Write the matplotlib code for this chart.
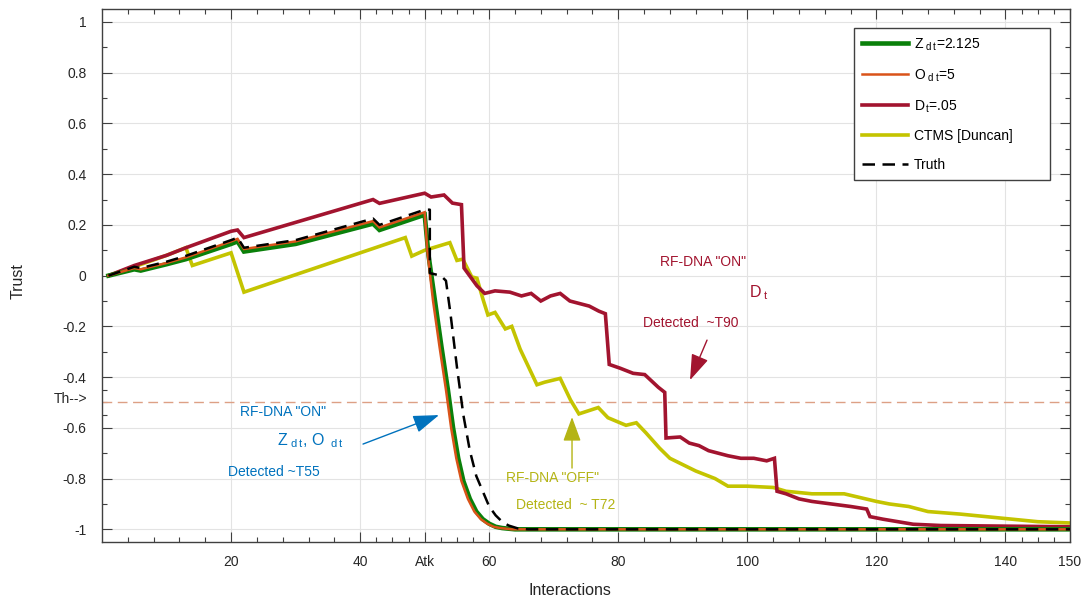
import matplotlib
matplotlib.use("Agg")
import matplotlib.pyplot as plt
from matplotlib.ticker import FixedLocator

plt.rcParams['font.family'] = ['Liberation Sans', 'DejaVu Sans']
plt.rcParams['mathtext.fontset'] = 'custom'
plt.rcParams['mathtext.rm'] = 'Liberation Sans'
plt.rcParams['mathtext.it'] = 'Liberation Sans:italic'

# ---------------- data ----------------
z_x = [1, 5, 6, 10, 13, 20, 21, 22, 30, 42, 43, 50, 50.6, 51.6, 52.6, 53.6, 54.4, 55.2, 56, 57, 58, 59, 60, 61, 62, 64, 70, 150]
z_y = [0.0, 0.025, 0.02, 0.045, 0.065, 0.125, 0.135, 0.095, 0.125, 0.205, 0.18, 0.24, 0.08, -0.1, -0.28, -0.45, -0.6, -0.72, -0.81, -0.88, -0.93, -0.96, -0.978, -0.99, -0.995, -1.0, -1.0, -1.0]

o_x = [1, 5, 6, 10, 13, 20, 21, 22, 30, 42, 43, 50, 50.4, 51.3, 52.3, 53.3, 54.1, 54.9, 55.7, 56.7, 57.7, 58.7, 59.7, 60.7, 61.7, 63.5, 70, 150]
o_y = [0.0, 0.03, 0.025, 0.05, 0.072, 0.135, 0.145, 0.105, 0.135, 0.215, 0.19, 0.25, 0.1, -0.1, -0.28, -0.45, -0.6, -0.72, -0.81, -0.88, -0.93, -0.96, -0.978, -0.99, -0.995, -1.0, -1.0, -1.0]

d_x = [1, 5, 10, 13, 20, 21, 22, 42, 43, 50, 51, 53, 54.3, 55.7, 56.1, 58.1, 59.3, 60.9, 63.2, 65, 66.5, 68, 69.5, 71, 72.5, 74, 75.5, 77, 78, 78.6, 80.3, 82.3, 84.1, 86.2, 87.2, 87.4, 89.6, 91, 92.5, 94, 95.5, 97, 99, 101, 103, 104.2, 104.6, 106, 108, 110, 113, 116, 118.5, 119, 121, 125.7, 130, 150]
d_y = [0.0, 0.04, 0.08, 0.11, 0.175, 0.18, 0.15, 0.30, 0.285, 0.325, 0.31, 0.318, 0.286, 0.28, 0.03, -0.04, -0.07, -0.06, -0.065, -0.08, -0.07, -0.1, -0.08, -0.07, -0.1, -0.11, -0.12, -0.14, -0.15, -0.35, -0.365, -0.385, -0.39, -0.44, -0.46, -0.64, -0.636, -0.66, -0.67, -0.69, -0.70, -0.71, -0.72, -0.72, -0.73, -0.72, -0.85, -0.86, -0.88, -0.89, -0.90, -0.91, -0.92, -0.95, -0.96, -0.98, -0.985, -0.99]

c_x = [1, 5, 10, 13, 14, 20, 22, 47, 48, 50, 53.9, 55, 55.9, 57.3, 58.1, 59, 59.8, 60.9, 62.5, 63.5, 64.8, 67.4, 68.6, 71, 72.6, 73.9, 76.9, 78.4, 81.2, 82.8, 84.3, 86.4, 88, 89.6, 92, 95, 97, 100, 104, 106, 110, 115, 120, 122, 125, 128, 133, 139, 145, 150]
c_y = [0.0, 0.035, 0.08, 0.11, 0.04, 0.09, -0.065, 0.15, 0.077, 0.10, 0.13, 0.06, 0.065, -0.005, -0.01, -0.09, -0.155, -0.145, -0.21, -0.2, -0.29, -0.43, -0.42, -0.405, -0.49, -0.545, -0.52, -0.56, -0.59, -0.58, -0.62, -0.68, -0.72, -0.74, -0.77, -0.80, -0.83, -0.83, -0.835, -0.85, -0.86, -0.86, -0.89, -0.90, -0.91, -0.93, -0.94, -0.955, -0.97, -0.975]

t_x = [1, 5, 6, 10, 13, 20, 21, 22, 30, 42, 43, 50, 50.8, 50.8, 52.5, 53.3, 54, 55, 56, 57, 58, 59, 60, 61, 62, 63, 64.5, 66, 150]
t_y = [0.0, 0.035, 0.03, 0.055, 0.078, 0.14, 0.15, 0.11, 0.14, 0.225, 0.2, 0.26, 0.26, 0.01, 0.0, -0.02, -0.15, -0.36, -0.55, -0.69, -0.79, -0.85, -0.91, -0.945, -0.97, -0.985, -0.997, -1.0, -1.0]

threshold = -0.5
x_ticks = [20, 40, 50, 60, 80, 100, 120, 140, 150]
x_tick_labels = ['20', '40', 'Atk', '60', '80', '100', '120', '140', '150']
y_ticks = [-1, -0.8, -0.6, -0.4, -0.2, 0, 0.2, 0.4, 0.6, 0.8, 1]
y_tick_labels = ['-1', '-0.8', '-0.6', '-0.4', '-0.2', '0', '0.2', '0.4', '0.6', '0.8', '1']

labels = [r'Z$_{\mathrm{\ d\;t}}$=2.125', r'O$_{\mathrm{\ d\;t}}$=5', r'D$_{\mathrm{\,t}}$=.05', 'CTMS [Duncan]', 'Truth']

BLUE = '#0072BD'
CRIMSON = '#A2142F'
YEL_LINE = '#C4C400'
YEL_TEXT = '#B4B414'
GREEN = '#0A800A'
ORANGE = '#D95319'
AXC = '#404040'

fig = plt.figure(figsize=(10.82, 6.03), dpi=100)
ax = fig.add_axes([102/1082, 1-542/603, 968/1082, (542-9.3)/603])

ax.axhline(threshold, color='#DDA085', lw=1.0, dashes=(7, 4), zorder=1.5)

lc, = ax.plot(c_x, c_y, color=YEL_LINE, lw=2.6, zorder=2, solid_joinstyle='miter')
ld, = ax.plot(d_x, d_y, color=CRIMSON, lw=2.6, zorder=2.2, solid_joinstyle='miter')
lz, = ax.plot(z_x, z_y, color=GREEN, lw=3.3, zorder=2.4, solid_joinstyle='miter')
lo, = ax.plot(o_x, o_y, color=ORANGE, lw=1.8, zorder=2.6, solid_joinstyle='miter')
lt, = ax.plot(t_x, t_y, color='black', lw=1.8, dashes=(5, 3), zorder=2.8)

ax.set_xlim(0, 150)
ax.set_ylim(-1.05, 1.05)
ax.set_xticks(x_ticks)
ax.set_xticklabels(x_tick_labels)
ax.set_yticks(y_ticks)
ax.set_yticklabels(y_tick_labels)
x_minor = [4, 8, 12, 16, 24, 28, 32, 36, 42.5, 45, 47.5, 52.5, 55, 57.5, 64, 68, 72, 76, 84, 88, 92, 96,
           104, 108, 112, 116, 124, 128, 132, 136, 142.5, 145, 147.5]
ax.xaxis.set_minor_locator(FixedLocator(x_minor))
ax.yaxis.set_minor_locator(FixedLocator([-0.9, -0.7, -0.55, -0.5, -0.45, -0.3, -0.1, 0.1, 0.3, 0.5, 0.7, 0.9]))

ax.grid(True, which='major', color='#E3E3E3', lw=0.8)
ax.set_axisbelow(True)
ax.tick_params(which='both', direction='in', top=True, right=True, color=AXC, labelcolor='#262626', labelsize=10)
ax.tick_params(which='major', length=7, width=0.8)
ax.tick_params(which='minor', length=3.5, width=0.8)
ax.tick_params(axis='y', pad=11)
ax.tick_params(axis='x', pad=9)
for s in ax.spines.values():
    s.set_color(AXC)
    s.set_linewidth(1.0)

ax.text(-0.015, 1-(399-9.3)/532.7, 'Th-->', transform=ax.transAxes, ha='right', va='center', fontsize=10, color='#262626')

ax.set_xlabel('Interactions', fontsize=11.5, color='#262626')
ax.xaxis.set_label_coords((570-102)/968, -0.077)
ax.set_ylabel('Trust', fontsize=11.5, color='#262626')
ax.yaxis.set_label_coords(-0.079, 0.49)

leg_x0 = (854-102)/968
leg_y1 = 1-(28-9.3)/532.7
leg_y0 = 1-(184-9.3)/532.7
leg = ax.legend([lz, lo, ld, lc, lt], labels, loc='upper left',
                bbox_to_anchor=(leg_x0, leg_y0, (1050-854)/968, leg_y1-leg_y0), mode='expand',
                fontsize=10, frameon=True, fancybox=False, edgecolor=AXC, framealpha=1,
                handlelength=3.3, handletextpad=0.4, labelspacing=1.05, borderpad=0.6, borderaxespad=0)
leg.get_frame().set_linewidth(1.0)

def d2x(px):
    return (px - 102) / 6.453

def d2y(py):
    return 1 - (py - 21.7) / 253.8

# blue annotation
ax.text(d2x(283), d2y(412), 'RF-DNA "ON"', color=BLUE, fontsize=10, ha='center', va='center')
ax.text(d2x(277), d2y(441), r'Z$_{\mathrm{\ d\;t}}$, O$_{\mathrm{\ \ d\;t}}$', color=BLUE, fontsize=11.5, ha='left', va='center')
ax.text(d2x(274), d2y(472), 'Detected ~T55', color=BLUE, fontsize=10, ha='center', va='center')
ax.annotate('', xy=(d2x(439), d2y(415)), xytext=(d2x(363), d2y(444)),
            arrowprops=dict(arrowstyle='-|>,head_length=1.6,head_width=0.55', mutation_scale=10,
                            color=BLUE, lw=1.0, shrinkA=0, shrinkB=0), zorder=5)

# yellow annotation
ax.text(d2x(552), d2y(478), 'RF-DNA "OFF"', color=YEL_TEXT, fontsize=10, ha='center', va='center')
ax.text(d2x(566), d2y(505), 'Detected  ~ T72', color=YEL_TEXT, fontsize=10, ha='center', va='center')
ax.annotate('', xy=(d2x(572), d2y(417)), xytext=(d2x(572), d2y(468)),
            arrowprops=dict(arrowstyle='-|>,head_length=1.5,head_width=0.55', mutation_scale=10,
                            color=YEL_TEXT, lw=1.0, shrinkA=0, shrinkB=0), zorder=5)

# crimson annotation
ax.text(d2x(703), d2y(262), 'RF-DNA "ON"', color=CRIMSON, fontsize=10, ha='center', va='center')
ax.text(d2x(749), d2y(293), r'D$_{\mathrm{\ t}}$', color=CRIMSON, fontsize=11.5, ha='left', va='center')
ax.text(d2x(691), d2y(323), 'Detected  ~T90', color=CRIMSON, fontsize=10, ha='center', va='center')
ax.annotate('', xy=(d2x(690), d2y(380)), xytext=(d2x(707), d2y(340)),
            arrowprops=dict(arrowstyle='-|>,head_length=1.6,head_width=0.55', mutation_scale=10,
                            color=CRIMSON, lw=1.0, shrinkA=0, shrinkB=0), zorder=5)

fig.savefig('out.png', dpi=100)
